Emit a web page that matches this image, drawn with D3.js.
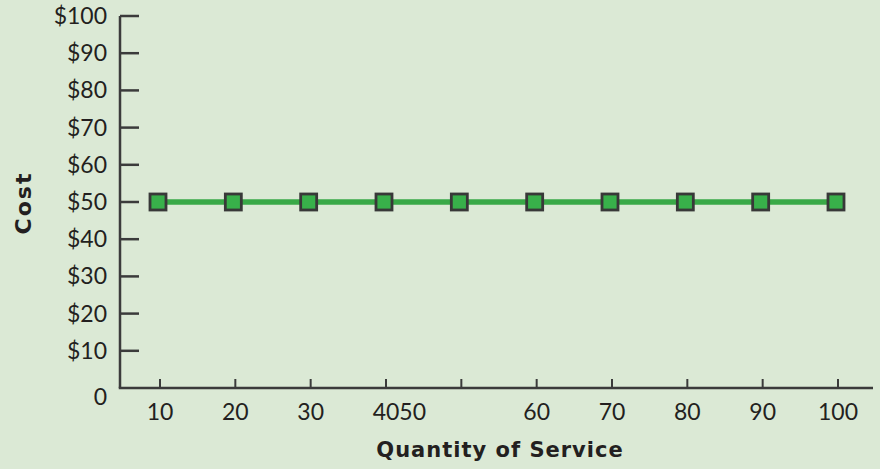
<!DOCTYPE html>
<html>
<head>
<meta charset="utf-8">
<script src="https://cdn.jsdelivr.net/npm/d3@7"></script>
<style>
  html, body { margin: 0; padding: 0; background: #dbe9d5; }
  svg { display: block; }
  text { font-family: Lato, "Open Sans", sans-serif; fill: #231f20; }
  .title { font-family: "DejaVu Sans", Lato, sans-serif; font-weight: bold; }
</style>
</head>
<body>
<div id="chart"></div>
<script>
const quantities = [10, 20, 30, 40, 50, 60, 70, 80, 90, 100]
const costs = [50, 50, 50, 50, 50, 50, 50, 50, 50, 50]
const xTickLabels = ['10', '20', '30', '40', '50', '60', '70', '80', '90', '100']
const yTicks = [0, 10, 20, 30, 40, 50, 60, 70, 80, 90, 100]
const yTickLabels = ['0', '$10', '$20', '$30', '$40', '$50', '$60', '$70', '$80', '$90', '$100']

const fullWidth = 880
const fullHeight = 469
const axisColor = '#3b3b3b'

const svg = d3.select('#chart')
    .append('svg')
    .attr('width', fullWidth)
    .attr('height', fullHeight)

svg.append('rect')
    .attr('width', fullWidth)
    .attr('height', fullHeight)
    .attr('fill', '#dbe9d5')

const x = d3.scaleLinear()
    .domain([10, 100])
    .range([160, 838])

const y = d3.scaleLinear()
    .domain([0, 100])
    .range([388, 16])

const originX = 120
const axisEndX = 873

// y axis: ticks pointing right into the plot
const yAxis = svg.append('g')
yAxis.append('line')
    .attr('x1', originX).attr('x2', originX)
    .attr('y1', y(100)).attr('y2', y(0))
    .attr('stroke', axisColor).attr('stroke-width', 2.5)
yAxis.selectAll('.ytick')
    .data(yTicks.slice(1))
    .enter()
    .append('line')
    .attr('x1', originX).attr('x2', originX + 19)
    .attr('y1', d => y(d)).attr('y2', d => y(d))
    .attr('stroke', axisColor).attr('stroke-width', 2.5)
yAxis.selectAll('.ylabel')
    .data(yTicks)
    .enter()
    .append('text')
    .attr('x', 107)
    .attr('y', d => y(d) + (d === 0 ? 9 : 0))
    .attr('dy', '0.35em')
    .attr('text-anchor', 'end')
    .style('font-size', '23px')
    .text((d, i) => yTickLabels[i])

// x axis: ticks pointing up
const xAxis = svg.append('g')
xAxis.append('line')
    .attr('x1', originX - 1.25).attr('x2', axisEndX)
    .attr('y1', y(0)).attr('y2', y(0))
    .attr('stroke', axisColor).attr('stroke-width', 2.5)
xAxis.selectAll('.xtick')
    .data(quantities)
    .enter()
    .append('line')
    .attr('x1', d => x(d)).attr('x2', d => x(d))
    .attr('y1', y(0)).attr('y2', y(0) - 9)
    .attr('stroke', axisColor).attr('stroke-width', 2)

const xLabels = xAxis.selectAll('.xlabel')
    .data(quantities)
    .enter()
    .append('text')
    .attr('x', d => x(d))
    .attr('y', 420)
    .attr('text-anchor', 'middle')
    .style('font-size', '23px')
    .text((d, i) => xTickLabels[i])

// the "50" label in the original sits right after "40"
const labelNodes = xLabels.nodes()
const i40 = quantities.indexOf(40)
const box40 = labelNodes[i40].getBBox()
d3.select(labelNodes[i40 + 1])
    .attr('x', box40.x + box40.width)
    .attr('text-anchor', 'start')

// axis titles
svg.append('text')
    .attr('class', 'title')
    .attr('x', 500)
    .attr('y', 457)
    .attr('text-anchor', 'middle')
    .style('font-size', '21px')
    .style('letter-spacing', '1px')
    .text('Quantity of Service')

svg.append('text')
    .attr('class', 'title')
    .attr('transform', 'translate(31, 203) rotate(-90)')
    .attr('text-anchor', 'middle')
    .style('font-size', '22px')
    .style('letter-spacing', '2px')
    .text('Cost')

// line and markers
const line = d3.line()
    .x(d => x(d[0]))
    .y(d => y(d[1]))
const points = quantities.map((q, i) => [q, costs[i]])

svg.append('path')
    .datum(points)
    .attr('d', line)
    .attr('fill', 'none')
    .attr('stroke', '#39a947')
    .attr('stroke-width', 5.5)

const size = 16
svg.selectAll('.marker')
    .data(points)
    .enter()
    .append('rect')
    .attr('x', d => x(d[0]) - size / 2 - 2)
    .attr('y', d => y(d[1]) - size / 2)
    .attr('width', size)
    .attr('height', size)
    .attr('fill', '#38b04a')
    .attr('stroke', '#383838')
    .attr('stroke-width', 2.8)
</script>
</body>
</html>
